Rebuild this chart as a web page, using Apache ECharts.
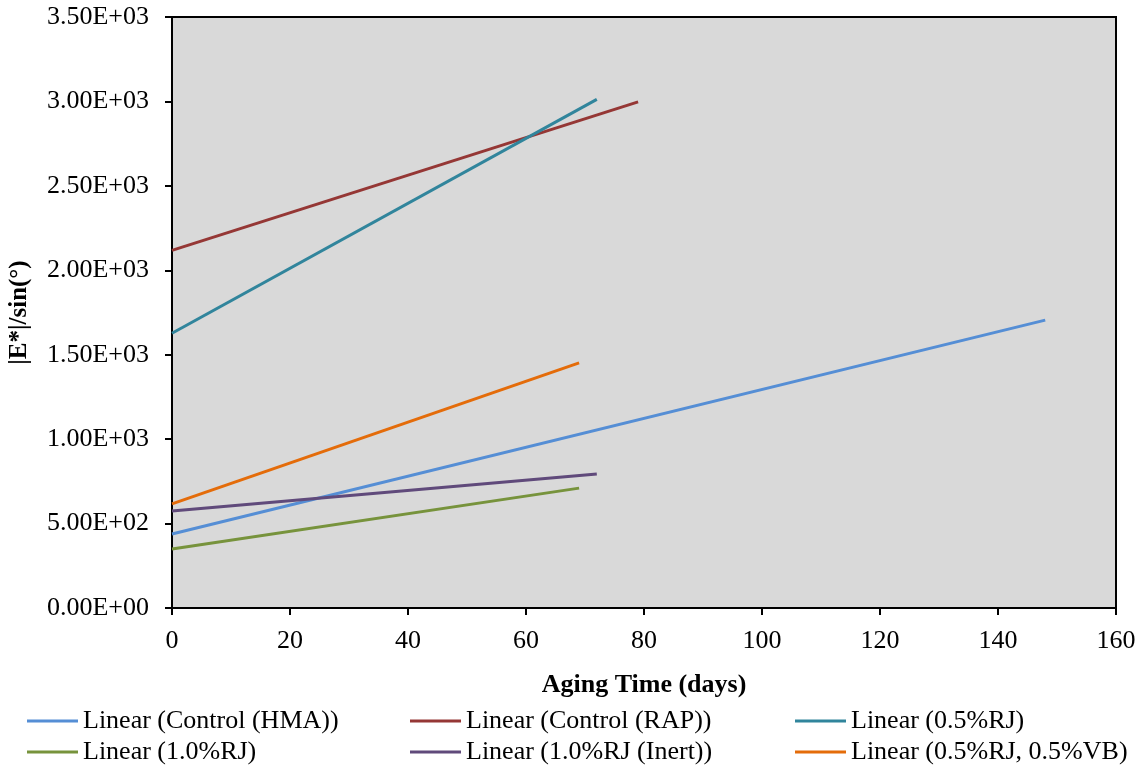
<!DOCTYPE html>
<html>
<head>
<meta charset="utf-8">
<style>html,body{margin:0;padding:0;background:#fff}#c{width:1141px;height:765px}</style>
<script src="https://cdn.jsdelivr.net/npm/echarts@6/dist/echarts.min.js"></script>
</head>
<body>
<div id="c"></div>
<script>
var seriesNames = ['Linear (Control (HMA))','Linear (Control (RAP))','Linear (0.5%RJ)','Linear (1.0%RJ)','Linear (1.0%RJ (Inert))','Linear (0.5%RJ, 0.5%VB)'];
var hmaLine = [[0, 438], [148, 1705]];
var rapLine = [[0, 2118], [79, 2997]];
var rj05Line = [[0, 1627], [72, 3012]];
var rj10Line = [[0, 350], [69, 710]];
var inertLine = [[0, 574], [72, 794]];
var vbLine = [[0, 617], [69, 1452]];
var colors = ['#558ED5','#953735','#31859C','#77933C','#604A7B','#E46C0A'];

var font = 'Liberation Serif, Times New Roman, serif';
var lines = [hmaLine, rapLine, rj05Line, rj10Line, inertLine, vbLine];
var series = lines.map(function(d, i){
  return {name: seriesNames[i], type: 'line', data: d, symbol: 'none', showSymbol: false,
    lineStyle: {color: colors[i], width: 3}, itemStyle: {color: colors[i]}, animation: false};
});
var legendPos = [[27,708],[410,708],[795,708],[27,739],[410,739],[795,739]];
var legends = seriesNames.map(function(n, i){
  return {data: [n], left: legendPos[i][0], top: legendPos[i][1], padding: 0, itemWidth: 51, itemHeight: 3, itemGap: 0,
    icon: 'rect', textStyle: {fontFamily: font, fontSize: 26, color: '#000'}, selectedMode: false};
});
function fmt(v){
  if (v === 0) return '0.00E+00';
  var e = Math.floor(Math.log10(v));
  var m = v / Math.pow(10, e);
  return m.toFixed(2) + 'E+' + (e < 10 ? '0' + e : e);
}
var chart = echarts.init(document.getElementById('c'));
chart.setOption({
  animation: false,
  backgroundColor: '#fff',
  legend: legends,
  grid: {left: 172, top: 17, right: 25, bottom: 157, outerBoundsMode: 'none', containLabel: false, show: true, backgroundColor: '#D9D9D9', borderColor: '#000', borderWidth: 2},
  xAxis: {type: 'value', min: 0, max: 160, interval: 20,
    name: 'Aging Time (days)', nameLocation: 'middle', nameGap: 64,
    nameTextStyle: {fontFamily: font, fontSize: 26, fontWeight: 'bold', color: '#000'},
    axisLine: {lineStyle: {color: '#000', width: 2}}, axisTick: {show: true, length: 7, lineStyle: {color: '#000', width: 2}},
    axisLabel: {fontFamily: font, fontSize: 26, color: '#000', margin: 20}, splitLine: {show: false}},
  yAxis: {type: 'value', min: 0, max: 3500, interval: 500,
    name: '|E*|/sin(°)', nameLocation: 'middle', nameGap: 140,
    nameTextStyle: {fontFamily: font, fontSize: 25, fontWeight: 'bold', color: '#000'},
    axisLine: {show: true, lineStyle: {color: '#000', width: 2}}, axisTick: {show: true, length: 7, lineStyle: {color: '#000', width: 2}},
    axisLabel: {fontFamily: font, fontSize: 26, color: '#000', margin: 23, formatter: fmt}, splitLine: {show: false}},
  series: series
});
</script>
</body>
</html>
